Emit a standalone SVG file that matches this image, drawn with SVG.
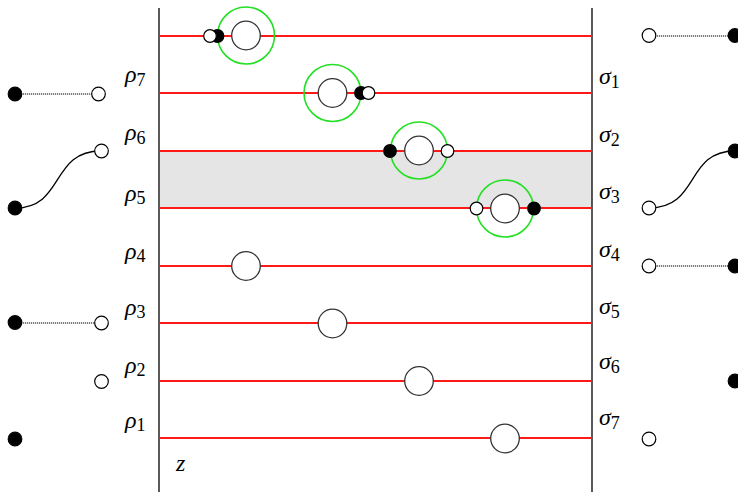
<svg xmlns="http://www.w3.org/2000/svg" width="738" height="492" viewBox="0 0 738 492">
<style>
.axis{stroke:#000;stroke-width:1.3;fill:none}
.red{stroke:#ff1a1a;stroke-width:1.8;fill:none}
.green{stroke:#22e022;stroke-width:1.6;fill:none}
.big{fill:#fff;stroke:#333;stroke-width:1.3}
.w{fill:#fff;stroke:#000;stroke-width:1.2}
.b{fill:#000;stroke:#000;stroke-width:1.2}
.dot{stroke:#000;stroke-width:1.1;stroke-dasharray:1.2 0.8;fill:none}
.curve{stroke:#000;stroke-width:1.3;fill:none}
.g{font-family:"Liberation Serif","Times New Roman",serif;font-style:italic;font-size:24px;fill:#000}
.s{font-family:"Liberation Serif","Times New Roman",serif;font-style:normal;font-size:18px}
</style>
<rect x="160" y="151" width="432" height="57" fill="#e5e5e5"/>
<g id="axes">
<line class="axis" x1="159" y1="8" x2="159" y2="492"/>
<line class="axis" x1="592" y1="8" x2="592" y2="492"/>
</g>
<g id="levels">
<line class="red" x1="159" y1="36" x2="592" y2="36"/>
<line class="red" x1="159" y1="93" x2="592" y2="93"/>
<line class="red" x1="159" y1="151" x2="592" y2="151"/>
<line class="red" x1="159" y1="208" x2="592" y2="208"/>
<line class="red" x1="159" y1="266" x2="592" y2="266"/>
<line class="red" x1="159" y1="323" x2="592" y2="323"/>
<line class="red" x1="159" y1="381" x2="592" y2="381"/>
<line class="red" x1="159" y1="438" x2="592" y2="438"/>
</g>
<g id="connectors">
<line class="dot" x1="15" y1="94" x2="101" y2="94"/>
<path class="curve" d="M15 208 C65 208 50 151 101 151"/>
<line class="dot" x1="15" y1="323" x2="101" y2="323"/>
<line class="dot" x1="649" y1="36" x2="735" y2="36"/>
<path class="curve" d="M649 208 C700 208 685 151 735 151"/>
<line class="dot" x1="649" y1="266" x2="735" y2="266"/>
</g>
<g id="node-row1">
<circle class="green" cx="246" cy="35.5" r="28.5"/>
<circle class="big" cx="246" cy="35.5" r="14.3"/>
<circle class="b" cx="217.5" cy="36" r="6.3"/>
<circle class="w" cx="210" cy="36" r="6.3"/>
</g>
<g id="node-row2">
<circle class="green" cx="332.5" cy="93" r="28.5"/>
<circle class="big" cx="332.5" cy="93" r="14.3"/>
<circle class="b" cx="361" cy="93" r="6.3"/>
<circle class="w" cx="368.5" cy="93" r="6.3"/>
</g>
<g id="node-row3">
<circle class="green" cx="419" cy="150.5" r="28.5"/>
<circle class="big" cx="419" cy="150.5" r="14.3"/>
<circle class="b" cx="390" cy="151" r="6.3"/>
<circle class="w" cx="447.5" cy="151" r="6.3"/>
</g>
<g id="node-row4">
<circle class="green" cx="505" cy="208.5" r="28.5"/>
<circle class="big" cx="505" cy="208.5" r="14.3"/>
<circle class="w" cx="476.5" cy="208.5" r="6.3"/>
<circle class="b" cx="534" cy="208.5" r="6.3"/>
</g>
<g id="node-row5"><circle class="big" cx="246" cy="266" r="14.3"/></g>
<g id="node-row6"><circle class="big" cx="332.5" cy="323.5" r="14.3"/></g>
<g id="node-row7"><circle class="big" cx="419" cy="381" r="14.3"/></g>
<g id="node-row8"><circle class="big" cx="505" cy="438.5" r="14.3"/></g>
<g id="left-pairs">
<circle class="b" cx="15" cy="94" r="6.8"/>
<circle class="w" cx="98.5" cy="94" r="6.8"/>
<circle class="w" cx="101.5" cy="151" r="6.8"/>
<circle class="b" cx="15" cy="208" r="6.8"/>
<circle class="b" cx="15" cy="322.5" r="6.8"/>
<circle class="w" cx="101.5" cy="323" r="6.8"/>
<circle class="w" cx="101.5" cy="381.5" r="6.8"/>
<circle class="b" cx="15" cy="439" r="6.8"/>
</g>
<g id="right-pairs">
<circle class="w" cx="649" cy="35.5" r="6.8"/>
<circle class="b" cx="735" cy="35.5" r="6.8"/>
<circle class="b" cx="735" cy="151" r="6.8"/>
<circle class="w" cx="649" cy="208" r="6.8"/>
<circle class="w" cx="649" cy="266" r="6.8"/>
<circle class="b" cx="735" cy="266" r="6.8"/>
<circle class="b" cx="735" cy="381" r="6.8"/>
<circle class="w" cx="649" cy="439" r="6.8"/>
</g>
<g id="labels-rho">
<text class="g" x="125" y="82">ρ<tspan class="s" dy="3.5">7</tspan></text>
<text class="g" x="125" y="140">ρ<tspan class="s" dy="3.5">6</tspan></text>
<text class="g" x="125" y="200.5">ρ<tspan class="s" dy="3.5">5</tspan></text>
<text class="g" x="125" y="258.5">ρ<tspan class="s" dy="3.5">4</tspan></text>
<text class="g" x="125" y="314.5">ρ<tspan class="s" dy="3.5">3</tspan></text>
<text class="g" x="125" y="372.5">ρ<tspan class="s" dy="3.5">2</tspan></text>
<text class="g" x="125" y="427.5">ρ<tspan class="s" dy="3.5">1</tspan></text>
</g>
<g id="labels-sigma">
<text class="g" x="599" y="84">σ<tspan class="s" dy="3.5">1</tspan></text>
<text class="g" x="599" y="142">σ<tspan class="s" dy="3.5">2</tspan></text>
<text class="g" x="599" y="199">σ<tspan class="s" dy="3.5">3</tspan></text>
<text class="g" x="599" y="257">σ<tspan class="s" dy="3.5">4</tspan></text>
<text class="g" x="599" y="314">σ<tspan class="s" dy="3.5">5</tspan></text>
<text class="g" x="599" y="369">σ<tspan class="s" dy="3.5">6</tspan></text>
<text class="g" x="599" y="425">σ<tspan class="s" dy="3.5">7</tspan></text>
</g>
<text class="g" x="176" y="471">z</text>
</svg>
